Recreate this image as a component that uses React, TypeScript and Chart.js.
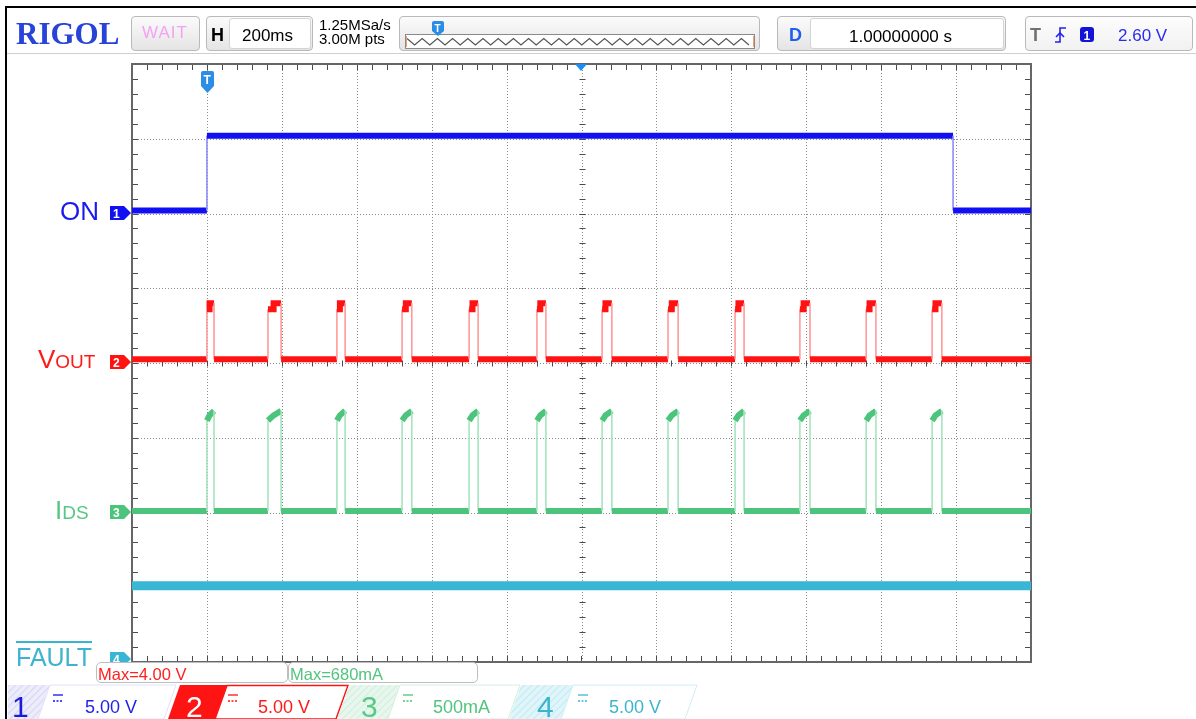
import React, { useEffect, useRef } from "react";
import { Chart, registerables } from "chart.js";

Chart.register(...registerables);

// ---------- data ----------
const timeMin = -0.2; // s (left edge)
const timeMax = 2.2; // s (right edge)
const secPerDiv = 0.2; // H = 200ms
const hDivs = 12;
const vDivs = 8;

// Channel 1 "ON" (5.00 V/div, offset 6 div from bottom)
const onEdgeTimes = [0.0, 1.992];
const onLow = 0.2;
const onHigh = 5.2;

// Channel 2 "VOUT" (5.00 V/div, offset 4 div) – pulse timing in seconds
const pulseRise = [0.0, 0.163, 0.347, 0.521, 0.7, 0.881, 1.055, 1.231, 1.41, 1.583, 1.76, 1.936];
const pulseStep = [0.007, 0.178, 0.355, 0.531, 0.709, 0.89, 1.064, 1.241, 1.419, 1.593, 1.769, 1.945];
const pulseFall = [0.019, 0.198, 0.369, 0.547, 0.724, 0.905, 1.081, 1.258, 1.434, 1.61, 1.786, 1.962];
const voutBase = 0.25;
const voutTopLow = 3.6;
const voutTopHigh = 4.0;

// Channel 3 "IDS" (500 mA/div, offset 2 div) – values in mA
const idsBase = 10;
const idsTopStart = 615;
const idsTopMid = 650;
const idsTopEnd = 680;

// Channel 4 "FAULT" (5.00 V/div, offset 0 div)
const faultLevel = 5.1;

// ---------- build step series ----------
type P = { x: number; y: number };
function onSeries(): P[] {
  return [
    { x: timeMin, y: onLow },
    { x: onEdgeTimes[0], y: onLow },
    { x: onEdgeTimes[0], y: onHigh },
    { x: onEdgeTimes[1], y: onHigh },
    { x: onEdgeTimes[1], y: onLow },
    { x: timeMax, y: onLow },
  ];
}
function voutSeries(): P[] {
  const pts: P[] = [{ x: timeMin, y: voutBase }];
  pulseRise.forEach((r, i) => {
    pts.push({ x: r, y: voutBase }, { x: r, y: voutTopLow }, { x: pulseStep[i], y: voutTopLow },
      { x: pulseStep[i], y: voutTopHigh }, { x: pulseFall[i], y: voutTopHigh }, { x: pulseFall[i], y: voutBase });
  });
  pts.push({ x: timeMax, y: voutBase });
  return pts;
}
function idsSeries(): P[] {
  const pts: P[] = [{ x: timeMin, y: idsBase }];
  pulseRise.forEach((r, i) => {
    pts.push({ x: r, y: idsBase }, { x: r, y: idsTopStart }, { x: pulseStep[i], y: idsTopMid },
      { x: pulseFall[i], y: idsTopEnd }, { x: pulseFall[i], y: idsBase });
  });
  pts.push({ x: timeMax, y: idsBase });
  return pts;
}
function faultSeries(): P[] {
  return [{ x: timeMin, y: faultLevel }, { x: timeMax, y: faultLevel }];
}

const SANS = '"Liberation Sans", Arial, Helvetica, sans-serif';
const SERIF = '"Liberation Serif", "Times New Roman", serif';

const C1 = "#1010f2";
const C2 = "#ff1212";
const C3 = "#4cc47c";
const C4 = "#38b6d3";

function seg(color: string, light: string, w: number) {
  return {
    borderColor: (c: any) =>
      Math.abs(c.p0.x - c.p1.x) < 0.5 && Math.abs(c.p0.y - c.p1.y) > 12 ? light : color,
    borderWidth: (c: any) =>
      Math.abs(c.p0.x - c.p1.x) < 0.5 && Math.abs(c.p0.y - c.p1.y) > 12 ? 1.6 : w,
  };
}

const gridPlugin = {
  id: "scopeGrid",
  beforeDatasetsDraw(chart: any) {
    const { ctx, chartArea: a, scales } = chart;
    const xs = scales.x;
    const ys = scales.yDiv;
    ctx.save();
    ctx.strokeStyle = "#8c8c8c";
    ctx.lineWidth = 1;
    ctx.setLineDash([1, 2]);
    for (let i = 1; i < hDivs; i++) {
      const x = Math.round(xs.getPixelForValue(timeMin + i * secPerDiv)) + 0.5;
      ctx.beginPath();
      ctx.moveTo(x, a.top);
      ctx.lineTo(x, a.bottom);
      ctx.stroke();
    }
    for (let j = 1; j < vDivs; j++) {
      const y = Math.round(ys.getPixelForValue(j)) + 0.5;
      ctx.beginPath();
      ctx.moveTo(a.left, y);
      ctx.lineTo(a.right, y);
      ctx.stroke();
    }
    ctx.setLineDash([]);
    ctx.strokeStyle = "#4a4a4a";
    const cx = Math.round(xs.getPixelForValue(timeMin + (hDivs / 2) * secPerDiv)) + 0.5;
    const cy = Math.round(ys.getPixelForValue(vDivs / 2)) + 0.5;
    for (let k = 1; k < hDivs * 5; k++) {
      const x = Math.round(xs.getPixelForValue(timeMin + (k * secPerDiv) / 5)) + 0.5;
      ctx.beginPath();
      ctx.moveTo(x, a.top);
      ctx.lineTo(x, a.top + 6);
      ctx.moveTo(x, a.bottom - 6);
      ctx.lineTo(x, a.bottom);
      ctx.moveTo(x, cy - 3);
      ctx.lineTo(x, cy + 3);
      ctx.stroke();
    }
    for (let k = 1; k < vDivs * 5; k++) {
      const y = Math.round(ys.getPixelForValue(k / 5)) + 0.5;
      ctx.beginPath();
      ctx.moveTo(a.left, y);
      ctx.lineTo(a.left + 6, y);
      ctx.moveTo(a.right - 6, y);
      ctx.lineTo(a.right, y);
      ctx.moveTo(cx - 3, y);
      ctx.lineTo(cx + 3, y);
      ctx.stroke();
    }
    ctx.strokeStyle = "#666";
    ctx.lineWidth = 2;
    ctx.strokeRect(a.left, a.top, a.right - a.left, a.bottom - a.top);
    ctx.restore();
  },
};

function Txt(props: any) {
  const { x, b, fs, color = "#000", w = 400, fam = SANS, children, style = {} } = props;
  const k = fam === SERIF ? 0.8375 : 0.8465;
  return (
    <div
      style={{
        position: "absolute",
        left: x,
        top: b - k * fs,
        fontSize: fs,
        lineHeight: `${fs}px`,
        height: fs,
        color,
        fontWeight: w,
        fontFamily: fam,
        whiteSpace: "nowrap",
        ...style,
      }}
    >
      {children}
    </div>
  );
}

function Box(props: any) {
  const { x, y, w, h, bg = "linear-gradient(#fbfbfb,#e4e4e4)", border = "1px solid #b9b9b9", r = 4, style = {} } = props;
  return (
    <div
      style={{
        position: "absolute",
        left: x,
        top: y,
        width: w,
        height: h,
        boxSizing: "border-box",
        background: bg,
        border,
        borderRadius: r,
        ...style,
      }}
    />
  );
}

function zigzag(): string {
  const pts: string[] = [];
  let x = 407;
  let up = true;
  while (x <= 752) {
    pts.push(`${x},${up ? 38.5 : 45}`);
    x += 7.6;
    up = !up;
  }
  return pts.join(" ");
}

function marker(y: number) {
  return `110,${y - 7} 124,${y - 7} 131,${y} 124,${y + 7} 110,${y + 7}`;
}

export default function App() {
  const ref = useRef<HTMLCanvasElement>(null);
  useEffect(() => {
    if (!ref.current) return;
    const chart = new Chart(ref.current, {
      type: "line",
      data: {
        datasets: [
          { data: onSeries(), yAxisID: "y1", pointRadius: 0, borderColor: C1, borderWidth: 6, segment: seg(C1, "#8c8cf8", 6) },
          { data: voutSeries(), yAxisID: "y2", pointRadius: 0, borderColor: C2, borderWidth: 6, segment: seg(C2, "#ff9a9a", 6) },
          { data: idsSeries(), yAxisID: "y3", pointRadius: 0, borderColor: C3, borderWidth: 6, segment: seg(C3, "#a6e4be", 6) },
          { data: faultSeries(), yAxisID: "y4", pointRadius: 0, borderColor: C4, borderWidth: 9 },
        ] as any,
      },
      options: {
        responsive: false,
        devicePixelRatio: 1,
        animation: false,
        events: [],
        layout: { padding: { left: 132, top: 64, right: 165, bottom: 57 } },
        plugins: { legend: { display: false }, tooltip: { enabled: false } },
        elements: { line: { tension: 0, borderJoinStyle: "miter", borderCapStyle: "butt" } },
        scales: {
          x: { type: "linear", min: timeMin, max: timeMax, display: false },
          y1: { type: "linear", min: -6 * 5, max: 2 * 5, display: false },
          y2: { type: "linear", min: -4 * 5, max: 4 * 5, display: false },
          y3: { type: "linear", min: -2 * 500, max: 6 * 500, display: false },
          y4: { type: "linear", min: 0, max: 8 * 5, display: false },
          yDiv: { type: "linear", min: 0, max: vDivs, display: false },
        },
      } as any,
      plugins: [gridPlugin],
    });
    return () => chart.destroy();
  }, []);

  return (
    <div style={{ position: "absolute", left: 0, top: 0, width: 1196, height: 719, overflow: "hidden", background: "#fff", fontFamily: SANS }}>
      <canvas ref={ref} width={1196} height={719} style={{ position: "absolute", left: 0, top: 0 }} />

      {/* header boxes (beneath the svg decorations) */}
      <Box x={131} y={16} w={69} h={35} />
      <Box x={206} y={16} w={107} h={35} />
      <Box x={229} y={18} w={82} h={31} bg="#fff" border="1px solid #d4d4d4" r={3} />
      <Box x={399} y={16} w={361} h={35} />
      <Box x={777} y={16} w={229} h={35} />
      <Box x={810} y={18} w={194} h={31} bg="#fff" border="1px solid #d4d4d4" r={3} />
      <Box x={1025} y={16} w={168} h={35} bg="linear-gradient(#fdfdfd,#f1f1f1)" />

      <svg width={1196} height={719} style={{ position: "absolute", left: 0, top: 0 }}>
        <defs>
          <pattern id="h1" width="5" height="5" patternUnits="userSpaceOnUse" patternTransform="rotate(45)">
            <rect width="5" height="5" fill="#ececfb" />
            <line x1="0" y1="0" x2="0" y2="5" stroke="#d6d6f4" strokeWidth="2" />
          </pattern>
          <pattern id="h3" width="5" height="5" patternUnits="userSpaceOnUse" patternTransform="rotate(45)">
            <rect width="5" height="5" fill="#e8f7ee" />
            <line x1="0" y1="0" x2="0" y2="5" stroke="#cfeedc" strokeWidth="2" />
          </pattern>
          <pattern id="h4" width="5" height="5" patternUnits="userSpaceOnUse" patternTransform="rotate(45)">
            <rect width="5" height="5" fill="#e0f5f9" />
            <line x1="0" y1="0" x2="0" y2="5" stroke="#c2eaf2" strokeWidth="2" />
          </pattern>
        </defs>
        {/* frame */}
        <line x1="5" y1="7" x2="1196" y2="7" stroke="#000" strokeWidth="2" />
        <line x1="6" y1="6" x2="6" y2="719" stroke="#000" strokeWidth="2" />
        <line x1="7" y1="53.5" x2="1196" y2="53.5" stroke="#cfcfcf" strokeWidth="1" />

        {/* channel markers */}
        <polygon points={marker(213)} fill={C1} />
        <polygon points={marker(362)} fill={C2} />
        <polygon points={marker(512)} fill={C3} />
        <polygon points={marker(659)} fill={C4} />
        <text x="113" y="217.5" fill="#fff" fontSize="12" fontWeight="700" fontFamily={SANS}>1</text>
        <text x="113" y="366.5" fill="#fff" fontSize="12" fontWeight="700" fontFamily={SANS}>2</text>
        <text x="113" y="516.5" fill="#fff" fontSize="12" fontWeight="700" fontFamily={SANS}>3</text>
        <text x="113" y="663.5" fill="#fff" fontSize="12" fontWeight="700" fontFamily={SANS}>4</text>

        {/* trigger marker and center marker */}
        <path d="M201,73 Q201,71 203,71 L212,71 Q214,71 214,73 L214,86 L207.5,93 L201,86 Z" fill="#2b8de6" />
        <text x="203.5" y="84" fill="#fff" fontSize="12" fontWeight="700" fontFamily={SANS}>T</text>
        <polygon points="575,64 587,64 581,71" fill="#1e8ff0" />

        {/* wave overview */}
        <rect x="405.5" y="34.5" width="349" height="14" fill="#fff" stroke="#8a8a8a" />
        <polyline points={zigzag()} fill="none" stroke="#555" strokeWidth="1.2" />
        <line x1="406.5" y1="36" x2="406.5" y2="47" stroke="#f0a070" />
        <line x1="753.5" y1="36" x2="753.5" y2="47" stroke="#f0a070" />
        <path d="M432,23 Q432,21 434,21 L442,21 Q444,21 444,23 L444,31 L438,36 L432,31 Z" fill="#2b8de6" />
        <text x="434.5" y="32" fill="#fff" fontSize="10" fontWeight="700" fontFamily={SANS}>T</text>

        {/* trigger edge icon */}
        <path d="M1055,42 H1060 V28 H1066" fill="none" stroke="#2222ee" strokeWidth="1.6" />
        <path d="M1056,37 L1060,33 L1064,37" fill="none" stroke="#2222ee" strokeWidth="1.6" />
        <rect x="1080" y="27" width="14" height="15" rx="3" fill="#1414d8" />
        <text x="1083.5" y="39.5" fill="#fff" fontSize="12" fontWeight="700" fontFamily={SANS}>1</text>

        {/* bottom channel bar */}
        <polygon points="8,685 50,685 38,719 8,719" fill="url(#h1)" />
        <polygon points="50,685 176,685 164,719 38,719" fill="#fff" stroke="#e2e2f6" />
        <polygon points="180,685 227,685 215,719 168,719" fill="#ff1414" />
        <polygon points="227,685.5 348,685.5 336,719 215,719" fill="#fff" stroke="#ff1414" strokeWidth="1.5" />
        <polygon points="349,685 400,685 388,719 337,719" fill="url(#h3)" />
        <polygon points="400,685 520,685 508,719 388,719" fill="#fff" stroke="#d4f0de" />
        <polygon points="521,685 573,685 561,719 509,719" fill="url(#h4)" />
        <polygon points="573,685 697,685 685,719 561,719" fill="#fff" stroke="#cdeef5" />
        {/* DC coupling symbols */}
        {[[53, C1], [228, C2], [403, C3], [578, C4]].map(([x, c]: any, i) => (
          <g key={i}>
            <line x1={x} y1={695} x2={x + 10} y2={695} stroke={c} strokeWidth="1.3" />
            <line x1={x} y1={701} x2={x + 10} y2={701} stroke={c} strokeWidth="1.3" strokeDasharray="2,1.5" />
          </g>
        ))}
      </svg>

      {/* header texts */}
      <Txt x={16} b={43.5} fs={31} w={700} fam={SERIF} color="#2743d8">RIGOL</Txt>
      <Txt x={142} b={38} fs={17} color="#f4a2f2" style={{ letterSpacing: 1 }}>WAIT</Txt>
      <Txt x={211} b={41} fs={18} w={700}>H</Txt>
      <Txt x={242} b={41} fs={17}>200ms</Txt>
      <Txt x={319} b={30} fs={15}>1.25MSa/s</Txt>
      <Txt x={319} b={44} fs={15}>3.00M pts</Txt>
      <Txt x={789} b={41} fs={18} w={700} color="#1c5ef0">D</Txt>
      <Txt x={849} b={42} fs={17}>1.00000000 s</Txt>
      <Txt x={1030} b={41} fs={18} w={700} color="#707070">T</Txt>
      <Txt x={1118} b={41} fs={17} color="#2a2af0">2.60 V</Txt>

      {/* channel labels */}
      <Txt x={60} b={220} fs={26} color="#1a1af0">ON</Txt>
      <div style={{ position: "absolute", left: 38, top: 346, fontFamily: SANS, color: "#ff1a1a", whiteSpace: "nowrap", lineHeight: "26px" }}>
        <span style={{ fontSize: 26 }}>V</span>
        <span style={{ fontSize: 19 }}>OUT</span>
      </div>
      <div style={{ position: "absolute", left: 55, top: 497, fontFamily: SANS, color: "#58c684", whiteSpace: "nowrap", lineHeight: "26px" }}>
        <span style={{ fontSize: 26 }}>I</span>
        <span style={{ fontSize: 19 }}>DS</span>
      </div>
      <Txt x={16} b={666} fs={25} color="#3cb4d0" style={{ textDecoration: "overline", textDecorationThickness: 2 }}>FAULT</Txt>

      {/* measurement boxes */}
      <div style={{ position: "absolute", left: 96, top: 662, width: 192, height: 21, boxSizing: "border-box", border: "1px solid #bdbdbd", borderRadius: 5, background: "#fff" }} />
      <div style={{ position: "absolute", left: 288, top: 662, width: 190, height: 21, boxSizing: "border-box", border: "1px solid #bdbdbd", borderRadius: 5, background: "#fff" }} />
      <Txt x={98} b={680} fs={16.5} color="#ff2020">Max=4.00 V</Txt>
      <Txt x={290} b={680} fs={16.5} color="#52c47e">Max=680mA</Txt>

      {/* bottom channel bar texts */}
      <Txt x={12} b={717} fs={30} color="#1c1cd8">1</Txt>
      <Txt x={85} b={713} fs={18} color="#2323e8">5.00 V</Txt>
      <Txt x={186} b={717} fs={30} color="#fff">2</Txt>
      <Txt x={258} b={713} fs={18} color="#ff1a1a">5.00 V</Txt>
      <Txt x={361} b={717} fs={30} color="#5cc888">3</Txt>
      <Txt x={433} b={713} fs={18} color="#52c47e">500mA</Txt>
      <Txt x={537} b={717} fs={30} color="#3cb4d0">4</Txt>
      <Txt x={609} b={713} fs={18} color="#3cb4d0">5.00 V</Txt>
    </div>
  );
}
